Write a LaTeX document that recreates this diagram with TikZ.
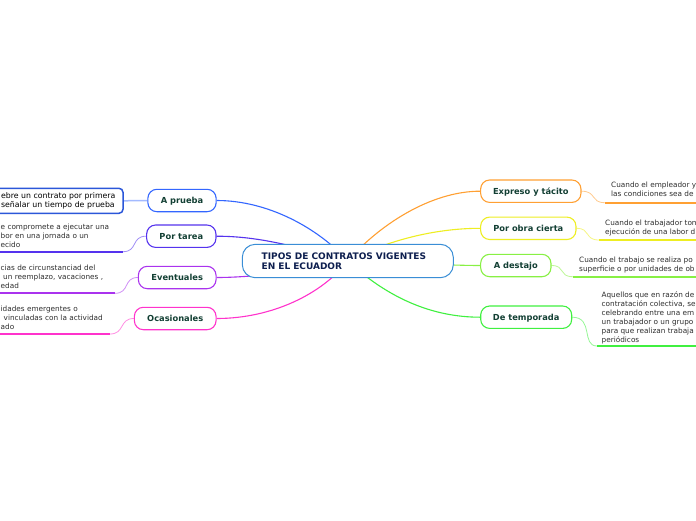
\documentclass[tikz,border=0pt]{standalone}
\usepackage{fontspec}
\setmainfont{DejaVu Sans}
\pgfdeclarelayer{bg}
\pgfdeclarelayer{lines}
\pgfsetlayers{bg,lines,main}
\definecolor{cblue}{HTML}{3A8ED6}
\definecolor{navy}{HTML}{0E1F4F}
\definecolor{lbl}{HTML}{123F33}
\definecolor{dtxt}{HTML}{2E2E2E}
\definecolor{cap}{HTML}{3366FF}
\definecolor{cpt}{HTML}{5533EE}
\definecolor{cev}{HTML}{AA33EE}
\definecolor{coc}{HTML}{FF33CC}
\definecolor{cex}{HTML}{FFA033}
\definecolor{cpo}{HTML}{EEEE22}
\definecolor{cad}{HTML}{88F044}
\definecolor{cdt}{HTML}{40F040}
\tikzset{
  topic/.style={draw=#1, line width=1.1pt, fill=white, rounded corners=9pt,
    minimum height=22.4pt, inner xsep=4pt, text=lbl,
    font=\fontsize{8.3}{10}\selectfont\bfseries, text height=6.4pt, text depth=0.6pt},
  detail/.style={anchor=west, inner sep=0pt, align=left, text=dtxt,
    font=\fontsize{7.3}{9}\selectfont},
  mainline/.style={draw=#1, line width=1.1pt},
  twig/.style={draw=#1!55, line width=0.8pt},
  uline/.style={draw=#1, line width=1.7pt},
}
\begin{document}
\begin{tikzpicture}[x=1pt,y=-1pt]
\useasboundingbox (0,0) rectangle (696,520);
\begin{pgfonlayer}{bg}
\fill[white] (0,0) rectangle (696,520);
\end{pgfonlayer}
\clip (0,0) rectangle (696,520);

% central topic
\node[draw=cblue, line width=1pt, fill=white, rounded corners=13pt,
  minimum width=211pt, minimum height=33.4pt, inner xsep=19.4pt,
  text width=172.2pt, align=left, text=navy,
  font=\fontsize{9}{10.3}\selectfont\bfseries] (c) at (347.8,261)
  {TIPOS DE CONTRATOS VIGENTES\\EN EL ECUADOR};

% left topics
\node[topic=cap, minimum width=68.3pt] (ap) at (182,200.5) {A prueba};
\node[topic=cpt, minimum width=69.3pt] (pt) at (181.3,236.2) {Por tarea};
\node[topic=cev, minimum width=77.7pt] (ev) at (177.2,277.5) {Eventuales};
\node[topic=coc, minimum width=81.7pt] (oc) at (175.2,318.5) {Ocasionales};

% right topics
\node[topic=cex, minimum width=100.3pt] (ex) at (530.8,191.2) {Expreso y tácito};
\node[topic=cpo, minimum width=95.3pt] (po) at (528.3,228.3) {Por obra cierta};
\node[topic=cad, minimum width=70.3pt] (ad) at (515.8,265.5) {A destajo};
\node[topic=cdt, minimum width=91pt] (dt) at (526.2,317.2) {De temporada};

% left details
\node[draw=cap!85!black, line width=1.5pt, fill=white, rounded corners=4pt,
  minimum width=133pt, minimum height=25pt, inner xsep=5pt, inner ysep=0pt,
  text width=123pt, align=left, text=black,
  font=\fontsize{7.8}{9.3}\selectfont] (apd) at (56.5,200.8)
  {\hspace*{6pt}ebre un contrato por primera\\\hspace*{6pt}señalar un tiempo de prueba};
\node[detail] (ptd) at (0.5,236.6)
  {\strut e compromete a ejecutar una\\bor en una jornada o un\\ecido\strut};
\node[detail] (evd) at (0.5,278)
  {\strut cias de circunstanciad del\\\hspace*{2.5pt}un reemplazo, vacaciones ,\\edad\strut};
\node[detail] (ocd) at (0.5,318.2)
  {\strut idades emergentes o\\\hspace*{3pt}vinculadas con la actividad\\ado\strut};

% right details
\node[detail] (exd) at (611,190.6)
  {\strut Cuando el empleador y\\las condiciones sea de\strut};
\node[detail] (pod) at (605,227.9)
  {\strut Cuando el trabajador tom\\ejecución de una labor d\strut};
\node[detail] (add) at (579,264.8)
  {\strut Cuando el trabajo se realiza po\\superficie o por unidades de ob\strut};
\node[detail] (dtd) at (601.5,317.7)
  {\strut Aquellos que en razón de\\contratación colectiva, se\\celebrando entre una em\\un trabajador o un grupo\\para que realizan trabaja\\periódicos\strut};

% underline end points
\coordinate (exa) at (605,202.7);  \coordinate (exb) at (697,202.7);
\coordinate (poa) at (599,240);    \coordinate (pob) at (697,240);
\coordinate (ada) at (573,276.7);  \coordinate (adb) at (697,276.7);
\coordinate (dta) at (597,346);    \coordinate (dtb) at (697,346);
\coordinate (pta) at (123,251.7);  \coordinate (ptb) at (-1,251.7);
\coordinate (eva) at (115,293.3);  \coordinate (evb) at (-1,293.3);
\coordinate (oca) at (110,334);    \coordinate (ocb) at (-1,334);

\begin{pgfonlayer}{lines}
% main connectors
\draw[mainline=cap] (c.center) .. controls (318,228) and (268,200.5) .. (ap.east);
\draw[mainline=cpt] (c.center) .. controls (300,248) and (262,236.2) .. (pt.east);
\draw[mainline=cev] (c.center) .. controls (300,272) and (250,277.5) .. (ev.east);
\draw[mainline=coc] (c.center) .. controls (322,294) and (272,318.5) .. (oc.east);
\draw[mainline=cex] (c.center) .. controls (378,226) and (430,191.2) .. (ex.west);
\draw[mainline=cpo] (c.center) .. controls (392,238) and (440,228.3) .. (po.west);
\draw[mainline=cad] (c.center) .. controls (420,264) and (460,265.5) .. (ad.west);
\draw[mainline=cdt] (c.center) .. controls (388,298) and (432,317.2) .. (dt.west);
% detail connectors
\draw[draw=cap!45, line width=1.5pt] (apd.east) -- (ap.west);
\draw[twig=cpt] (pt.west) .. controls (131,236.2) and (138,251.7) .. (pta);
\draw[uline=cpt] (pta) -- (ptb);
\draw[twig=cev] (ev.west) .. controls (123,277.5) and (130,293.3) .. (eva);
\draw[uline=cev] (eva) -- (evb);
\draw[twig=coc] (oc.west) .. controls (119,318.5) and (125,334) .. (oca);
\draw[uline=coc] (oca) -- (ocb);
\draw[twig=cex] (ex.east) .. controls (597,191.2) and (590,202.7) .. (exa);
\draw[uline=cex] (exa) -- (exb);
\draw[twig=cpo] (po.east) .. controls (591,228.3) and (584,240) .. (poa);
\draw[uline=cpo] (poa) -- (pob);
\draw[twig=cad] (ad.east) .. controls (566,265.5) and (558,276.7) .. (ada);
\draw[uline=cad] (ada) -- (adb);
\draw[twig=cdt] (dt.east) .. controls (594,317.2) and (581,346) .. (dta);
\draw[uline=cdt] (dta) -- (dtb);
\end{pgfonlayer}
\end{tikzpicture}
\end{document}
